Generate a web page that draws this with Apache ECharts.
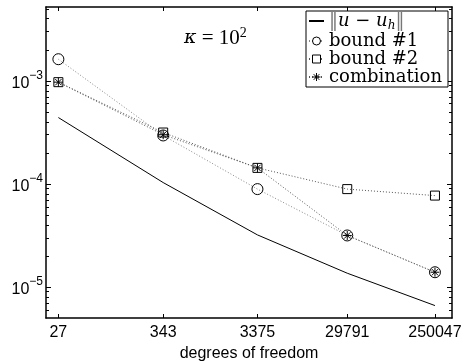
<!DOCTYPE html>
<html>
<head>
<meta charset="utf-8">
<script src="https://cdn.jsdelivr.net/npm/echarts@6/dist/echarts.min.js"></script>
<style>
  html, body { margin: 0; padding: 0; background: #fff; }
  #chart { width: 467px; height: 361px; }
</style>
</head>
<body>
<div id="chart"></div>
<script>
// degrees of freedom (x) and error values
const dofs = [27, 343, 3375, 29791, 250047];
const errNorm = [4.4e-4, 1.03e-4, 3.2e-5, 1.36e-5, 6.6e-6];
const bound1 = [1.62e-3, 2.95e-4, 8.9e-5, 3.16e-5, 1.39e-5];
const bound2 = [9.7e-4, 3.15e-4, 1.43e-4, 8.9e-5, 7.7e-5];
const combo = [9.7e-4, 3.0e-4, 1.43e-4, 3.16e-5, 1.39e-5];
const yMajor = [1e-5, 1e-4, 1e-3];

// minor log ticks 2..9 x 10^k
const yMinor = [];
for (let k = -6; k <= -3; k++) {
  for (let m = 2; m <= 9; m++) yMinor.push(m * Math.pow(10, k));
}

const pairs = ys => dofs.map((x, i) => [x, ys[i]]);
const X_MIN = 20, X_MAX = 3.78e5, Y_MIN = 5e-6, Y_MAX = 5.2e-3;
const asterisk = 'path://M5,0L5,10M0,5L10,5M1.5,1.5L8.5,8.5M1.5,8.5L8.5,1.5';
const hollow = { color: 'rgba(0,0,0,0)', borderColor: '#000', borderWidth: 1 };
const legendFill = { color: '#fff', borderColor: '#000', borderWidth: 1 };

const chart = echarts.init(document.getElementById('chart'));

const xBase = {
  type: 'log', min: X_MIN, max: X_MAX,
  axisLine: { lineStyle: { color: '#000', width: 1.5 } },
  axisTick: { inside: true, length: 4, customValues: dofs, lineStyle: { color: '#000' } },
  splitLine: { show: false },
};
const yBase = {
  type: 'log', min: Y_MIN, max: Y_MAX,
  axisLine: { show: true, lineStyle: { color: '#000', width: 1.5 } },
  splitLine: { show: false },
};

const option = {
  animation: false,
  backgroundColor: '#fff',
  title: {
    text: '{i|κ}{n| = 10}{s|2}',
    left: 179, top: 21,
    textStyle: {
      rich: {
        i: { fontFamily: 'DejaVu Serif', fontStyle: 'italic', fontWeight: 'normal', fontSize: 19, color: '#000' },
        n: { fontFamily: 'Liberation Serif', fontWeight: 'normal', fontSize: 21, color: '#000' },
        s: { fontFamily: 'Liberation Serif', fontWeight: 'normal', fontSize: 14, color: '#000', verticalAlign: 'top', lineHeight: 24 },
      },
    },
  },
  legend: {
    orient: 'vertical',
    left: 306, top: 11,
    backgroundColor: '#fff',
    borderColor: '#000', borderWidth: 1,
    padding: [1, 6, 1, 2],
    itemGap: 0, itemWidth: 15, itemHeight: 10,
    data: [
      { name: 'norm', itemStyle: { color: 'rgba(0,0,0,0)', borderWidth: 0 } },
      { name: 'bound #1', itemStyle: legendFill },
      { name: 'bound #2', itemStyle: legendFill },
      { name: 'combination', itemStyle: legendFill },
    ],
    formatter: name => name === 'norm' ? '{b|‖}{i|u} − {i|u}{sub|h}{b|‖}' : name,
    textStyle: {
      fontFamily: 'DejaVu Serif', fontSize: 18, color: '#000',
      rich: {
        b: { fontFamily: 'DejaVu Serif', fontSize: 18, color: '#777' },
        i: { fontFamily: 'DejaVu Serif', fontStyle: 'italic', fontSize: 18, color: '#000' },
        sub: { fontFamily: 'DejaVu Serif', fontStyle: 'italic', fontSize: 12, color: '#000', verticalAlign: 'bottom', lineHeight: 22 },
      },
    },
  },
  grid: { left: 46, right: 15, top: 7, bottom: 43, containLabel: false, outerBoundsMode: 'none' },
  xAxis: [
    Object.assign({}, xBase, {
      position: 'bottom',
      name: 'degrees of freedom', nameLocation: 'middle', nameGap: 23,
      nameTextStyle: { fontFamily: 'Liberation Sans', fontSize: 16, color: '#000' },
      axisLabel: {
        customValues: dofs, margin: 7,
        fontFamily: 'Liberation Sans', fontSize: 16, color: '#000',
        formatter: v => String(Math.round(v)),
      },
    }),
    Object.assign({}, xBase, { position: 'top', axisLabel: { show: false } }),
  ],
  yAxis: [
    Object.assign({}, yBase, {
      position: 'left',
      axisTick: { inside: true, length: 5, customValues: yMajor, lineStyle: { color: '#000' } },
      axisLabel: {
        customValues: yMajor, margin: 3,
        formatter: v => '{b|10}{s|−' + (-Math.round(Math.log10(v))) + '}',
        rich: {
          b: { fontFamily: 'Liberation Sans', fontSize: 16, color: '#000', lineHeight: 22, verticalAlign: 'bottom' },
          s: { fontFamily: 'Liberation Sans', fontSize: 12, color: '#000', verticalAlign: 'top', lineHeight: 22 },
        },
      },
    }),
    Object.assign({}, yBase, {
      position: 'left', axisLine: { show: false },
      axisTick: { inside: true, length: 3, customValues: yMinor, lineStyle: { color: '#000' } },
      axisLabel: { show: false },
    }),
    Object.assign({}, yBase, {
      position: 'right',
      axisTick: { inside: true, length: 5, customValues: yMajor, lineStyle: { color: '#000' } },
      axisLabel: { show: false },
    }),
    Object.assign({}, yBase, {
      position: 'right', axisLine: { show: false },
      axisTick: { inside: true, length: 3, customValues: yMinor, lineStyle: { color: '#000' } },
      axisLabel: { show: false },
    }),
  ],
  series: [
    {
      name: 'norm', type: 'line', data: pairs(errNorm),
      showSymbol: false, symbol: 'none',
      lineStyle: { color: '#000', width: 1 }, itemStyle: { color: '#000' },
    },
    {
      name: 'bound #1', type: 'line', data: pairs(bound1),
      symbol: 'circle', symbolSize: 11, itemStyle: hollow,
      lineStyle: { color: '#888', width: 1, type: [1, 2] },
    },
    {
      name: 'bound #2', type: 'line', data: pairs(bound2),
      symbol: 'rect', symbolSize: 9, itemStyle: hollow,
      lineStyle: { color: '#555', width: 1, type: [1, 2] },
    },
    {
      name: 'combination', type: 'line', data: pairs(combo),
      symbol: asterisk, symbolSize: 9, symbolKeepAspect: true, itemStyle: hollow,
      lineStyle: { color: '#555', width: 1, type: [1, 2] },
    },
  ],
};

chart.setOption(option);
</script>
</body>
</html>
